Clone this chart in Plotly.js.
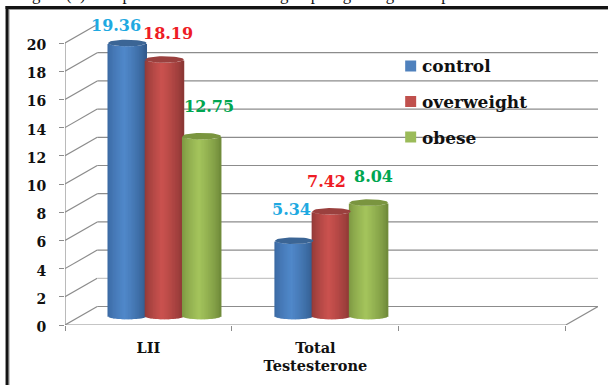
<!DOCTYPE html>
<html>
<head>
<meta charset="utf-8">
<script src="https://cdn.plot.ly/plotly-3.0.1.min.js"></script>
<style>html,body{margin:0;padding:0;background:#fff;overflow:hidden}#chart{width:608px;height:385px}</style>
</head>
<body>
<div id="chart"></div>
<script>
// Chart content
const categories = ['LII', 'Total<br>Testesterone', ''];
const seriesNames = ['control', 'overweight', 'obese'];
const control = [19.36, 5.34];
const overweight = [18.19, 7.42];
const obese = [12.75, 8.04];
const yTicks = [0, 2, 4, 6, 8, 10, 12, 14, 16, 18, 20];
const heading = 'Figure (3) Comparisons between the 3 groups regarding anthropometric measurements';

// Page geometry in pixels
const W = 608, H = 385;
const plotL = 64.5, plotR = 598, plotT = 25, plotB = 325;
const unitX = 167.07, unitY = 14.1;

// Fake-3D parameters, expressed in axis units
const wallDX = 32.3 / unitX, wallDY = 18.5 / unitY;
const floorLift = 9 / unitY;
const groupShift = 0.096, slotStep = 0.223;
const radiusX = 19.3 / unitX, radiusY = 3.3 / unitY;
const stripCount = 28;

const allValues = [control, overweight, obese];
const palette = [
  {edgeL: [58, 104, 160], mid: [80, 136, 202], edgeR: [48, 88, 136], cap: '#3b6595', swatch: '#4f81bd', label: '#1fa9e1'},
  {edgeL: [142, 56, 54], mid: [203, 82, 79], edgeR: [134, 52, 50], cap: '#9a403e', swatch: '#c0504d', label: '#ee1c25'},
  {edgeL: [122, 148, 64], mid: [164, 196, 92], edgeR: [108, 134, 56], cap: '#7a953f', swatch: '#9bbb59', label: '#00a651'}
];
const labelNudge = [
  [[-11, 18], [-3, 31]],
  [[4, 26], [-5, 30]],
  [[7, 30], [5, 26]]
];
const serif = '"DejaVu Serif", serif';

const mix = (a, b, k) => a.map((v, i) => Math.round(v + (b[i] - v) * k));
const pxX = x => (x - plotL) / (plotR - plotL);   // paper fraction for a pixel column
const pxY = y => (plotB - y) / (plotB - plotT);   // paper fraction for a pixel row

const traces = [];
const annotations = [];
const shapes = [];

// Each cylinder is a row of narrow bars, shaded across its width, whose
// bases follow the front arc of the ellipse, plus a flat elliptical cap.
allValues.forEach((values, s) => {
  const colours = palette[s];
  const centres = values.map((_, g) => g + groupShift + (s - 1) * slotStep);
  const step = 2 * radiusX / stripCount;
  for (let k = 0; k < stripCount; k++) {
    const t = -1 + (k + 0.5) * 2 / stripCount;
    const peak = -0.12;
    const shade = t < peak
      ? mix(colours.edgeL, colours.mid, Math.pow((t + 1) / (peak + 1), 0.7))
      : mix(colours.edgeR, colours.mid, Math.pow((1 - t) / (1 - peak), 0.7));
    traces.push({
      type: 'bar',
      name: seriesNames[s],
      x: centres.map(c => c + t * radiusX),
      y: values,
      base: values.map(() => floorLift - radiusY * Math.sqrt(1 - t * t)),
      width: step * 1.7,
      marker: {color: `rgb(${shade.join(',')})`, line: {width: 0}},
      showlegend: false,
      hoverinfo: 'skip'
    });
  }
  values.forEach((v, g) => {
    const capX = [], capY = [];
    for (let a = 0; a <= 48; a++) {
      const th = a / 48 * 2 * Math.PI;
      capX.push(centres[g] + radiusX * Math.cos(th));
      capY.push(v + floorLift + radiusY * Math.sin(th));
    }
    traces.push({
      type: 'scatter', mode: 'lines', x: capX, y: capY, fill: 'toself',
      fillcolor: colours.cap, line: {width: 0, color: colours.cap},
      showlegend: false, hoverinfo: 'skip', name: seriesNames[s]
    });
    annotations.push({
      xref: 'x', yref: 'y', x: centres[g], y: v + floorLift,
      xshift: labelNudge[s][g][0], yshift: labelNudge[s][g][1],
      text: v.toFixed(2), showarrow: false, xanchor: 'center', yanchor: 'middle',
      font: {family: serif, size: 16, color: colours.label, weight: 700}
    });
  });
});

// Walls and floor of the box, below the cylinders
const xFront0 = -0.5, xFront1 = 2.5;
const wallLine = (x0, y0, x1, y1, color) => ({
  type: 'line', xref: 'x', yref: 'y', x0, y0, x1, y1, layer: 'below',
  line: {color, width: 1.2}
});
yTicks.forEach(v => {
  shapes.push(wallLine(xFront0, v, xFront0 + wallDX, v + wallDY, '#8c8c8c'));
  shapes.push(wallLine(xFront0 + wallDX, v + wallDY, xFront1 + wallDX, v + wallDY, v === 2 ? '#c6c6c6' : '#8c8c8c'));
});
shapes.push(wallLine(xFront0, 0, xFront0, yTicks[yTicks.length - 1], '#8c8c8c'));
shapes.push(wallLine(xFront0, 0, xFront1, 0, '#8c8c8c'));
shapes.push(wallLine(xFront1, 0, xFront1 + wallDX, wallDY, '#8c8c8c'));

// Frame along the left and top edges
const pixelBlock = (x0, y0, x1, y1, c) => ({
  type: 'rect', xref: 'paper', yref: 'paper',
  x0: pxX(x0), x1: pxX(x1), y0: pxY(y0), y1: pxY(y1),
  fillcolor: c, line: {width: 0}, layer: 'above'
});
shapes.push(pixelBlock(8, 9, 9, H, '#9a9a9a'));
shapes.push(pixelBlock(8, 9, W, 10, '#9a9a9a'));
shapes.push(pixelBlock(5, 6, 8, H, '#141414'));
shapes.push(pixelBlock(5, 6, W, 9, '#141414'));

// Legend key
const legendRows = [66, 101.5, 137];
const legendTextRows = [66, 102, 138];
seriesNames.forEach((name, s) => {
  shapes.push(pixelBlock(405, legendRows[s] - 5.5, 416, legendRows[s] + 5.5, palette[s].swatch));
  annotations.push({
    xref: 'paper', yref: 'paper',
    x: pxX(420), y: pxY(legendTextRows[s]),
    text: name, showarrow: false, xanchor: 'left', yanchor: 'middle',
    font: {family: serif, size: 17, color: '#111', weight: 700}
  });
});

// Caption above the frame, running off the top of the page
annotations.push({
  xref: 'paper', yref: 'paper', x: pxX(309), y: pxY(5),
  text: heading, showarrow: false, xanchor: 'center', yanchor: 'bottom', borderpad: 0,
  font: {family: '"Liberation Serif", serif', size: 16.8, color: '#111'}
});

const layout = {
  width: W, height: H,
  margin: {l: plotL, r: W - plotR, t: plotT, b: H - plotB, pad: 0},
  paper_bgcolor: '#fff', plot_bgcolor: '#fff',
  showlegend: false, barmode: 'overlay', hovermode: false,
  xaxis: {
    range: [xFront0, xFront1 + wallDX], showgrid: false, zeroline: false, showline: false,
    tickmode: 'array', tickvals: [0, 1, 2], ticktext: categories, ticks: '',
    ticklabelstandoff: 12,
    tickfont: {family: serif, size: 14.5, color: '#111', weight: 700},
    minor: {tickmode: 'array', tickvals: [-0.5, 0.5, 1.5, 2.5], ticks: 'outside', ticklen: 5, tickwidth: 1, tickcolor: '#8c8c8c', showgrid: false}
  },
  yaxis: {
    range: [0, (plotB - plotT) / unitY], showgrid: false, zeroline: false, showline: false,
    tickmode: 'array', tickvals: yTicks, ticks: 'outside', ticklen: 5, tickwidth: 1, tickcolor: '#8c8c8c',
    ticklabelstandoff: 10, ticklabelshift: 2,
    tickfont: {family: serif, size: 14, color: '#111', weight: 700}
  },
  shapes, annotations
};

Plotly.newPlot('chart', traces, layout, {displayModeBar: false, staticPlot: true});
</script>
</body>
</html>
